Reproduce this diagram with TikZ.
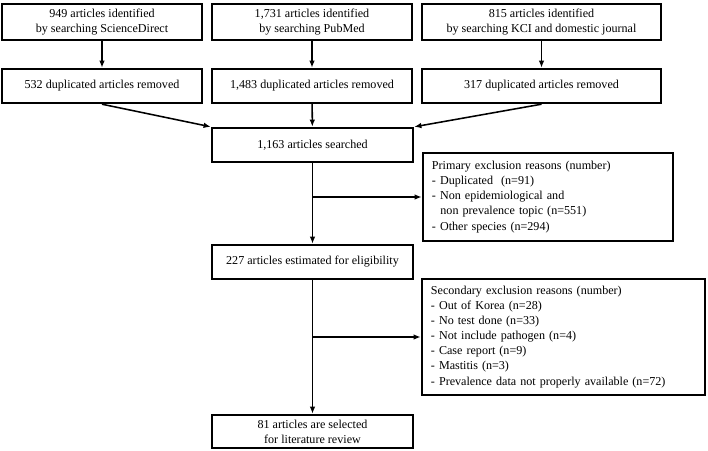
\documentclass[tikz,border=0pt]{standalone}
\usepackage{fontspec}
\setmainfont{Liberation Serif}
\usetikzlibrary{arrows.meta}
\begin{document}
\begin{tikzpicture}[x=0.025cm, y=-0.025cm,
    box/.style = {draw, line width=1.7pt, inner sep=0pt, align=center, minimum width=5cm, minimum height=0.85cm, font=\fontsize{8.6}{10.7}\selectfont},
    reason/.style = {box, align=left, inner xsep=0.225cm},
    arr/.style = {line width=1.1pt, -{Latex[length=1.8mm,width=1.4mm]}}]
    \useasboundingbox (0,0) rectangle (708,450);
    % sources
    \node[box, minimum height=0.9cm] (id1) at (102,22) {949 articles identified\\by searching ScienceDirect};
    \node[box, minimum height=0.9cm] (id2) at (312,22) {1,731 articles identified\\by searching PubMed};
    \node[box, minimum height=0.9cm, minimum width=5.975cm] (id3) at (541.5,22) {815 articles identified\\by searching KCI and domestic journal};
    \node[box] (dup1) at (102,86) {532 duplicated articles removed};
    \node[box] (dup2) at (312,86) {1,483 duplicated articles removed};
    \node[box, minimum width=5.975cm] (dup3) at (541.5,86) {317 duplicated articles removed};
    % screening
    \node[box, minimum width=5.025cm] (search) at (312.5,145) {1,163 articles searched};
    \node[reason, text width=5.8cm, minimum height=2.2cm] (prim) at (548,197) {Primary exclusion reasons (number)\\- Duplicated \ (n=91)\\- Non epidemiological and\\\hspace{0.7em}non prevalence topic (n=551)\\- Other species (n=294)};
    \node[box, minimum width=5.025cm] (elig) at (312.5,262) {227 articles estimated for eligibility};
    \node[reason, text width=6.625cm, minimum height=2.9cm] (sec) at (563.5,337) {Secondary exclusion reasons (number)\\- Out of Korea (n=28)\\- No test done (n=33)\\- Not include pathogen (n=4)\\- Case report (n=9)\\- Mastitis (n=3)\\- Prevalence data not properly available (n=72)};
    \node[box, minimum width=5.025cm, minimum height=0.825cm] (sel) at (312.5,431.5) {81 articles are selected\\for literature review};
    \coordinate (b1) at (312.5,197);
    \coordinate (b2) at (312.5,337);
    \draw[arr] (id1) -- (dup1);
    \draw[arr] (id2) -- (dup2);
    \draw[arr] (id3) -- (dup3);
    \draw[arr] (dup1.south) -- (search.north west);
    \draw[arr] (dup2) -- (search);
    \draw[arr] (dup3.south) -- (search.north east);
    \draw[arr] (search) -- (elig);
    \draw[arr] (b1) -- (prim.west);
    \draw[arr] (elig) -- (sel);
    \draw[arr] (b2) -- (sec.west);
\end{tikzpicture}
\end{document}
